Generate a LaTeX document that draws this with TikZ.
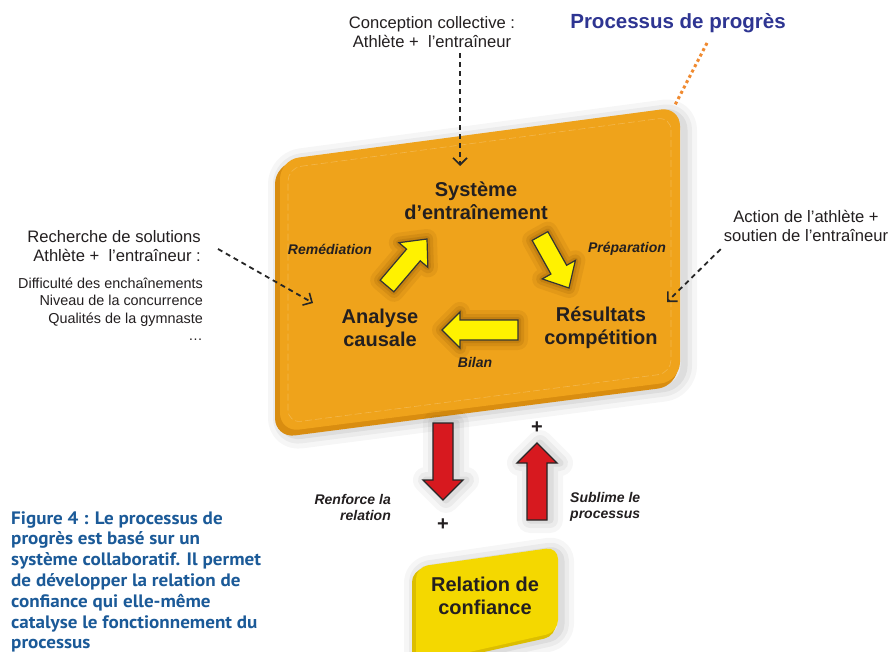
\documentclass[tikz,border=0pt]{standalone}
\usepackage{fontspec}
\setmainfont{Liberation Sans}
\newfontfamily\capfont[FakeStretch=1.06]{PT Sans}
\usetikzlibrary{calc,arrows.meta}
\definecolor{orface}{HTML}{EFA31B}
\definecolor{ordark}{HTML}{D98D10}
\definecolor{ylw}{HTML}{FFF200}
\definecolor{redarr}{HTML}{D7191F}
\definecolor{ybox}{HTML}{F4D800}
\definecolor{yboxdark}{HTML}{DCBE00}
\definecolor{txtdark}{HTML}{231F20}
\definecolor{titleblue}{HTML}{2E3592}
\definecolor{capblue}{HTML}{1B5A98}
\definecolor{dotor}{HTML}{F08A30}
\definecolor{glow}{HTML}{7A4A00}
\newcommand\blockarr[6][]{%
  \path ($(#3)!#6!(#2)$) coordinate (hb);
  \draw[#1] ($(#2)!#4!90:(#3)$) -- ($(hb)!#4!-90:(#2)$) -- ($(hb)!#5!-90:(#2)$) -- (#3)
    -- ($(hb)!#5!90:(#2)$) -- ($(hb)!#4!90:(#2)$) -- ($(#2)!#4!-90:(#3)$) -- cycle;}
\begin{document}
\begin{tikzpicture}[x=1pt,y=-1pt,
  boxtxt/.style={font=\fontsize{20}{23}\selectfont\bfseries, text=txtdark, align=center, inner sep=0pt},
  lbl/.style={font=\fontsize{14}{16}\selectfont\bfseries\itshape, text=txtdark, inner sep=0pt},
  plain/.style={font=\fontsize{16.6}{19.5}\selectfont, text=txtdark, inner sep=0pt},
  small/.style={font=\fontsize{14.4}{17.5}\selectfont, text=txtdark, inner sep=0pt},
  dasharr/.style={draw=black!85, line width=1.8pt, dash pattern=on 5pt off 4pt, -{Straight Barb[length=7pt,width=14pt,line width=1.6pt]}},
  shad/.style={preaction={draw=black, draw opacity=0.035, line width=26pt, line join=round, transform canvas={xshift=#1}},
               preaction={draw=black, draw opacity=0.045, line width=16pt, line join=round, transform canvas={xshift=#1}},
               preaction={draw=black, draw opacity=0.06, line width=7pt, line join=round, transform canvas={xshift=#1}}},
  yarr/.style={fill=ylw, draw=black!80, line width=1.2pt, line join=miter,
               preaction={draw=glow, draw opacity=0.10, line width=20pt, line join=round},
               preaction={draw=glow, draw opacity=0.14, line width=12pt, line join=round},
               preaction={draw=glow, draw opacity=0.18, line width=6pt, line join=round}},
  rarr/.style={fill=redarr, draw=black!85, line width=1.3pt, line join=miter, shad=3pt},
  plus/.style={font=\fontsize{20}{20}\selectfont\bfseries, text=txtdark, inner sep=0pt}]
\useasboundingbox (0,0) rectangle (890,652);
\fill[white] (0,0) rectangle (890,652);

% main orange box
\path[fill=ordark, rounded corners=20pt, shad=6pt]
  (275,164) -- (678,110) -- (678,386) -- (275,438) -- cycle;
\path[fill=orface, rounded corners=19pt]
  (280,160) -- (680,107) -- (680,381) -- (280,432) -- cycle;
\draw[white, opacity=0.22, line width=0.6pt, dash pattern=on 7pt off 3pt, rounded corners=13pt]
  (288,168) -- (671,117) -- (671,373) -- (288,423) -- cycle;

% title
\node[font=\fontsize{20.5}{24}\selectfont\bfseries, text=titleblue, inner sep=0pt] (title) at (678,23) {Processus de progrès};
\coordinate (dotA) at (707,43);
\coordinate (dotB) at (675,105);
\draw[dotor, line width=3pt, dash pattern=on 3pt off 3pt] (dotA) -- (dotB);

% yellow block arrows
\coordinate (r1) at (387,286); \coordinate (r2) at (427,239);
\coordinate (p1) at (540,236); \coordinate (p2) at (569,288);
\coordinate (l1) at (518,330); \coordinate (l2) at (442,330);
\blockarr[yarr]{r1}{r2}{9pt}{19pt}{21pt}
\blockarr[yarr]{p1}{p2}{9pt}{19pt}{21pt}
\blockarr[yarr]{l1}{l2}{10pt}{18pt}{18pt}

% box texts
\node[boxtxt] (sys) at (476,201) {Système\\d’entraînement};
\node[boxtxt] (ana) at (380,328) {Analyse\\causale};
\node[boxtxt] (res) at (601,328) {Résultats\\compétition};
\node[lbl] (rem) at (330,249) {Remédiation};
\node[lbl] (prep) at (627,249) {Préparation};
\node[lbl] (bil) at (475,362) {Bilan};

% outside texts
\node[plain, align=center] (conc) at (432,32) {Conception collective :\\Athlète +\ \ l’entraîneur};
\node[plain, align=right, anchor=east] (rech) at (201,246) {Recherche de solutions\\Athlète +\ \ l’entraîneur :};
\node[small, align=right, anchor=east] (list) at (203,309) {Difficulté des enchaînements\\Niveau de la concurrence\\Qualités de la gymnaste\\…};
\node[plain, align=center] (act) at (806,226) {Action de l’athlète +\\soutien de l’entraîneur};

% dashed arrows
\coordinate (sysin) at (460,166);
\coordinate (anain) at (313,303);
\coordinate (resin) at (667,302);
\draw[dasharr] (conc.south -| sysin) ++(0,5) -- (sysin);
\draw[dasharr] ($(rech.east)+(17,3)$) -- (anain);
\draw[dasharr] ($(act.south west)+(-3,7)$) -- (resin);

% red arrows
\coordinate (d1) at (443,423); \coordinate (d2) at (443,500);
\coordinate (u1) at (537,520); \coordinate (u2) at (537,443);
\blockarr[rarr]{d1}{d2}{10pt}{20pt}{20pt}
\blockarr[rarr]{u1}{u2}{10pt}{20pt}{20pt}
\node[plus] (plusu) at (537,428) {+};
\node[plus] (plusd) at (443,525) {+};
\node[lbl, align=right, anchor=east] (renf) at (391,507) {Renforce la\\relation};
\node[lbl, align=left, anchor=west] (subl) at (570,507) {Sublime le\\processus};

% yellow box
\path[fill=yboxdark, rounded corners=12pt, shad=5pt]
  (412,570) -- (556,549) -- (556,636) -- (412,668) -- cycle;
\path[fill=ybox, rounded corners=12pt]
  (416,567) -- (558,547) -- (558,632) -- (416,664) -- cycle;
\node[boxtxt] (rel) at (485,596) {Relation de\\confiance};

% caption
\node[font=\capfont\fontsize{18}{20.8}\selectfont\bfseries, text=capblue, align=left, anchor=north west, inner sep=0pt] (cap) at (11,511)
  {Figure 4 : Le processus de\\progrès est basé sur un\\système collaboratif. Il permet\\de développer la relation de\\confiance qui elle-même\\catalyse le fonctionnement du\\processus};
\end{tikzpicture}
\end{document}
